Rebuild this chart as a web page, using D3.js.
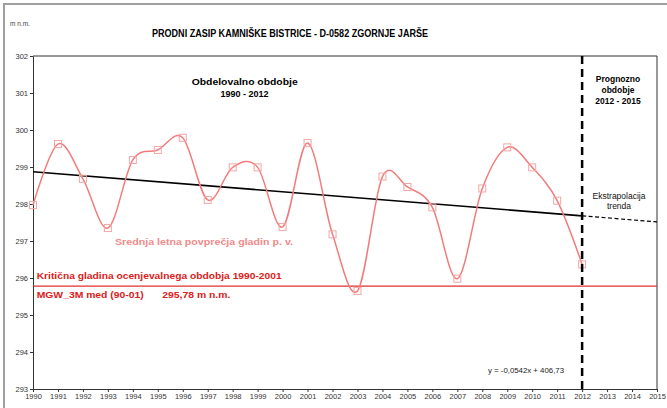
<!DOCTYPE html>
<html><head><meta charset="utf-8">
<script src="https://cdn.jsdelivr.net/npm/d3@7"></script>
<style>html,body{margin:0;padding:0;background:#fff;}svg{display:block;font-family:"Liberation Sans",Arial,sans-serif;}</style>
</head><body>
<svg id="c" width="667" height="408"></svg>
<script>
const years = [1990,1991,1992,1993,1994,1995,1996,1997,1998,1999,2000,2001,2002,2003,2004,2005,2006,2007,2008,2009,2010,2011,2012];
const levels = [297.97,299.62,298.68,297.35,299.19,299.46,299.79,298.11,298.99,298.99,297.38,299.65,297.18,295.65,298.74,298.46,297.91,295.98,298.42,299.53,298.99,298.09,296.37];
const xTicks = d3.range(1990, 2016);
const yTicks = [293,294,295,296,297,298,299,300,301,302];
const trendSlope = -0.0542, trendIntercept = 406.73;
const criticalLevel = 295.78;
const forecastStart = 2012, forecastEnd = 2015;

const svg = d3.select("#c");
const L = 33, R = 657, T = 56, B = 389;
const x = d3.scaleLinear().domain([1990, 2015]).range([L, R]);
const y = d3.scaleLinear().domain([293, 302]).range([B, T]);

// outer frame
svg.append("rect").attr("x",4).attr("y",4).attr("width",680).attr("height",420)
  .attr("fill","none").attr("stroke","#a0a0a0").attr("stroke-width",2);

// plot border
svg.append("path").attr("d",`M${L},${T}H${R}V${B}`).attr("fill","none").attr("stroke","#333").attr("stroke-width",1);

// axes
const ax = svg.append("g").attr("transform",`translate(0,${B})`)
  .call(d3.axisBottom(x).tickValues(xTicks).tickFormat(d3.format("d")).tickSize(3).tickSizeOuter(0));
const ay = svg.append("g").attr("transform",`translate(${L},0)`)
  .call(d3.axisLeft(y).tickValues(yTicks).tickFormat(d3.format("d")).tickSize(3).tickSizeOuter(0));
[ax, ay].forEach(g => {
  g.select(".domain").attr("stroke","#333");
  g.selectAll(".tick line").attr("stroke","#333");
  g.selectAll("text").attr("fill","#333").style("font-size","7.5px").style("font-family","Liberation Sans, Arial, sans-serif");
});
ax.selectAll("text").attr("dy","0.6em").attr("y",5);
ay.selectAll("text").attr("x",-5);

// critical line
svg.append("line").attr("x1",L).attr("x2",R).attr("y1",y(criticalLevel)).attr("y2",y(criticalLevel))
  .attr("stroke","#e03030").attr("stroke-width",1.3);

// trend line
const tr = v => trendSlope*v + trendIntercept;
svg.append("line").attr("x1",x(1990)).attr("y1",y(tr(1990))).attr("x2",x(forecastStart)).attr("y2",y(tr(forecastStart)))
  .attr("stroke","#000").attr("stroke-width",1.6);
svg.append("line").attr("x1",x(forecastStart)).attr("y1",y(tr(forecastStart))).attr("x2",x(forecastEnd)).attr("y2",y(tr(forecastEnd)))
  .attr("stroke","#000").attr("stroke-width",1.2).attr("stroke-dasharray","4,2.5");

// series
const pts = years.map((yr,i)=>[yr, levels[i]]);
svg.append("path").datum(pts)
  .attr("d", d3.line().x(d=>x(d[0])).y(d=>y(d[1])).curve(d3.curveCatmullRom.alpha(0)))
  .attr("fill","none").attr("stroke","#f27c7c").attr("stroke-width",1.5);
svg.selectAll("rect.m").data(pts).enter().append("rect").attr("class","m")
  .attr("x",d=>x(d[0])-3.5).attr("y",d=>y(d[1])-3.5).attr("width",7).attr("height",7)
  .attr("fill","none").attr("stroke","#f4a6a6").attr("stroke-width",1);

// forecast divider
svg.append("line").attr("x1",x(forecastStart)).attr("x2",x(forecastStart)).attr("y1",T).attr("y2",B)
  .attr("stroke","#000").attr("stroke-width",2.5).attr("stroke-dasharray","8,5");

// texts
function txt(s, xx, yy, opts={}) {
  const t = svg.append("text").attr("x",xx).attr("y",yy).text(s)
    .style("font-size",(opts.size||9)+"px").style("font-weight",opts.bold?"bold":"normal")
    .attr("fill",opts.fill||"#000").attr("text-anchor",opts.anchor||"start");
  if (opts.len) t.attr("textLength",opts.len).attr("lengthAdjust","spacingAndGlyphs");
  return t;
}
txt("m n.m.", 10, 26, {size:6.5, fill:"#444"});
txt("PRODNI ZASIP KAMNIŠKE BISTRICE - D-0582 ZGORNJE JARŠE", 152, 36.5, {size:10.5, bold:true, len:276});
txt("Obdelovalno obdobje", 191.7, 84.5, {size:9, bold:true, len:106});
txt("1990 - 2012", 244.5, 96.5, {size:9, bold:true, anchor:"middle"});
txt("Prognozno", 618, 82, {size:8.5, bold:true, anchor:"middle"});
txt("obdobje", 618, 93, {size:8.5, bold:true, anchor:"middle"});
txt("2012 - 2015", 618, 104, {size:8.5, bold:true, anchor:"middle"});
txt("Ekstrapolacija", 619, 198.5, {size:8.5, bold:false, anchor:"middle", fill:"#111"});
txt("trenda", 619, 208.5, {size:8.5, bold:false, anchor:"middle", fill:"#111"});
txt("Srednja  letna  povprečja  gladin  p. v.", 115, 244.5, {size:9.5, bold:true, fill:"#f28a8a", len:178});
txt("Kritična gladina  ocenjevalnega  obdobja  1990-2001", 36.7, 279, {size:9.5, bold:true, fill:"#dd2020", len:245});
txt("MGW_3M med (90-01)", 36.7, 297.5, {size:9.5, bold:true, fill:"#dd2020", len:107});
txt("295,78 m n.m.", 162.3, 297.5, {size:9.5, bold:true, fill:"#dd2020", len:68});
txt("y = -0,0542x + 406,73", 488, 373, {size:7, fill:"#222", len:76});
</script>
</body></html>
